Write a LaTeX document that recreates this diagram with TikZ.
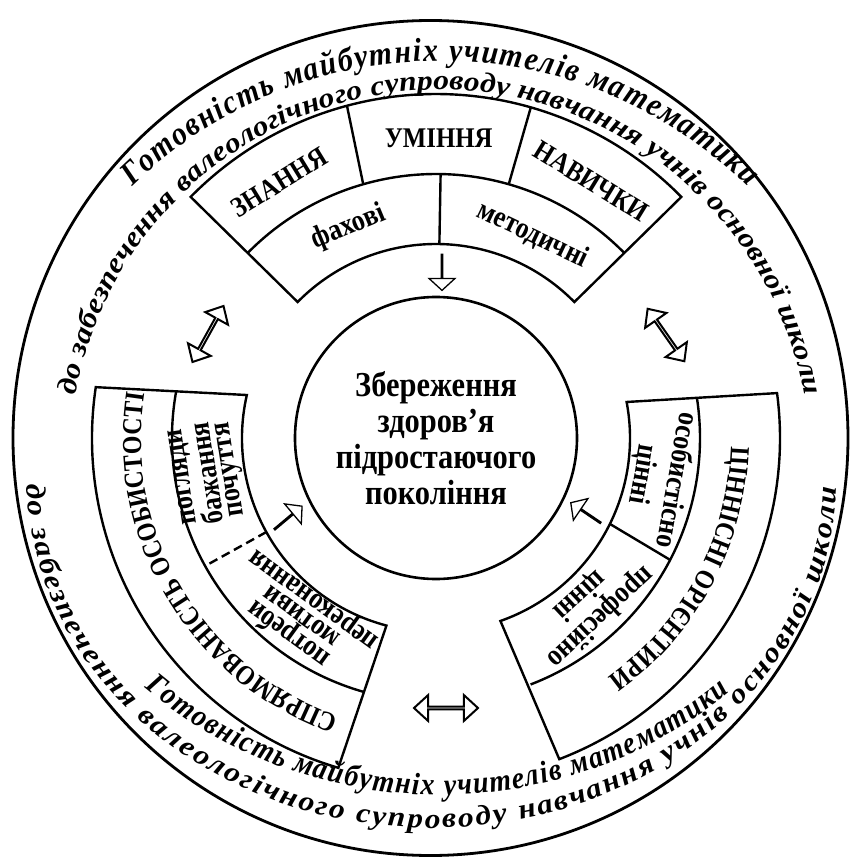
\documentclass[tikz,border=0pt]{standalone}
\usepackage{fontspec}
\setmainfont{Liberation Serif}
\newfontfamily\narrowfont[FakeStretch=0.87]{Liberation Serif}
\newfontfamily\wordfont[FakeStretch=0.9]{Liberation Serif}
\newfontfamily\widefont[FakeStretch=1.12]{Liberation Serif}
\usepackage{tikz}
\usetikzlibrary{calc,shapes.arrows,decorations.text}

\newcommand{\bigit}{\wordfont\fontsize{33}{33}\selectfont\bfseries\itshape}
\newcommand{\midit}{\wordfont\fontsize{31}{31}\selectfont\bfseries\itshape}
\newcommand{\smallit}{\widefont\fontsize{28}{28}\selectfont\bfseries\itshape}
\newcommand{\capfont}{\narrowfont\fontsize{27.5}{27.5}\selectfont\bfseries}
\tikzset{
  ring/.style={line width=2.4pt},
  headlbl/.style={font=\narrowfont\fontsize{28.5}{28.5}\selectfont\bfseries, inner sep=0pt},
  cell/.style={font=\narrowfont\fontsize{30}{20}\selectfont\bfseries, align=center, inner sep=0pt},
  loose/.style={font=\narrowfont\fontsize{30}{34}\selectfont\bfseries, align=center, inner sep=0pt},
  twin/.style={double arrow, draw, fill=white, line width=2pt, minimum height=64pt, minimum width=26pt, inner sep=0pt, double arrow head extend=8pt, double arrow tip angle=85},
  push/.style={single arrow, draw, fill=white, line width=1.3pt, minimum height=36pt, minimum width=26pt, inner sep=0pt, single arrow head extend=10pt, single arrow tip angle=95},
  curve/.style={decorate, decoration={text along path, text align=center, text={#1}}},
  banner/.style={decorate, decoration={text along path, text align={fit to path}, text={#1}}},
}

\begin{document}
\begin{tikzpicture}[x=1pt,y=1pt]
    \useasboundingbox (-436,-422) rectangle (416,438);
    % outer frame
    \draw[line width=2.8pt] (-5.5,0) circle (417.5);
    % centre
    \node[circle, draw, line width=2.6pt, minimum size=282pt, inner sep=0pt, align=center, font=\narrowfont\fontsize{35}{36}\selectfont\bfseries] (core) at (0,0) {Збереження\\здоров’я\\підростаючого\\покоління};
    % top block
    \draw[ring] (135.5:344) arc[start angle=135.5, end angle=44.5, radius=344] -- (44.5:194) arc[start angle=44.5, end angle=135.5, radius=194] -- cycle;
    \draw[ring] (135.5:264) arc[start angle=135.5, end angle=44.5, radius=264];
    \draw[ring] (106:264) -- (105:344);
    \draw[ring] (74:264) -- (74:344);
    \draw[ring] (89:194) -- (89:264);
    \node[headlbl, rotate=31.5] (know) at (121.5:300) {ЗНАННЯ};
    \node[headlbl] (skill) at (89.5:300) {УМІННЯ};
    \node[headlbl, rotate=-31.5] (habit) at (58.8:300) {НАВИЧКИ};
    \node[cell, rotate=22.5] (prof) at (112.5:228) {фахові};
    \node[cell, rotate=-25.5] (meth) at (64.5:225) {методичні};
    % left block
    \draw[ring] (171.5:344) arc[start angle=171.5, end angle=253.5, radius=344] -- (255.2:194) arc[start angle=255.2, end angle=167.2, radius=194] -- cycle;
    \draw[ring] (169.9:264) arc[start angle=169.9, end angle=254.2, radius=264];
    \draw[ring, dash pattern=on 9pt off 5pt] (209:194) -- (209:264);
    \path[curve={|\capfont|СПРЯМОВАНІСТЬ ОСОБИСТОСТІ}] (252:295) arc[start angle=252, end angle=170, radius=295];
    \node[cell, rotate=98.7] (views) at (188.7:230) {погляди\\бажання\\почуття};
    \node[cell, rotate=144] (needs) at (233:224) {потреби\\мотиви\\переконання};
    % right block
    \draw[ring] (7.5:344) arc[start angle=7.5, end angle=-69, radius=344] -- (-70.6:194) arc[start angle=-70.6, end angle=10.7, radius=194] -- cycle;
    \draw[ring] (8.5:264) arc[start angle=8.5, end angle=-69, radius=264];
    \draw[ring] (-26.3:194) -- (-27.5:264);
    \path[curve={|\capfont|ЦІННІСНІ ОРІЄНТИРИ}] (10:295) arc[start angle=10, end angle=-66, radius=295];
    \node[loose, rotate=-100] (own) at (-10:227) {особистісно\\цінні};
    \node[cell, rotate=-137, font=\narrowfont\fontsize{30}{30}\selectfont\bfseries] (job) at (-47.5:228) {професійно\\цінні};
    % arrows
    \node[push, rotate=-90] (downarr) at (6,166) {};
    \node[push, rotate=40] (leftarr) at (-148,-80) {};
    \node[push, rotate=146] (rightarr) at (150,-75) {};
    \node[twin, rotate=61] (ularr) at (-228,104) {};
    \node[twin, rotate=-55] (urarr) at (230,103) {};
    \node[twin] (botarr) at (10,-270) {};
    % arched titles
    \path[banner={|\bigit|Готовність майбутніх учителів математики}] ($(4,-63)+(134.4:440)$) arc[start angle=134.4, end angle=45.6, radius=440];
    \path[banner={|\smallit|до забезпечення валеологічного супроводу навчання учнів основної школи}] ($(4,-22)+(170:370)$) arc[start angle=170, end angle=10, radius=370];
    \path[banner={|\midit|Готовність майбутніх учителів математики}] ($(4,103)+(230:460)$) arc[start angle=230, end angle=309, radius=460];
    \path[banner={|\smallit|до забезпечення валеологічного супроводу навчання учнів основної школи}] ($(-4,-40)+({405*cos(181)},{350*sin(181)})$) arc[start angle=181, end angle=358.5, x radius=405, y radius=350];
\end{tikzpicture}
\end{document}
